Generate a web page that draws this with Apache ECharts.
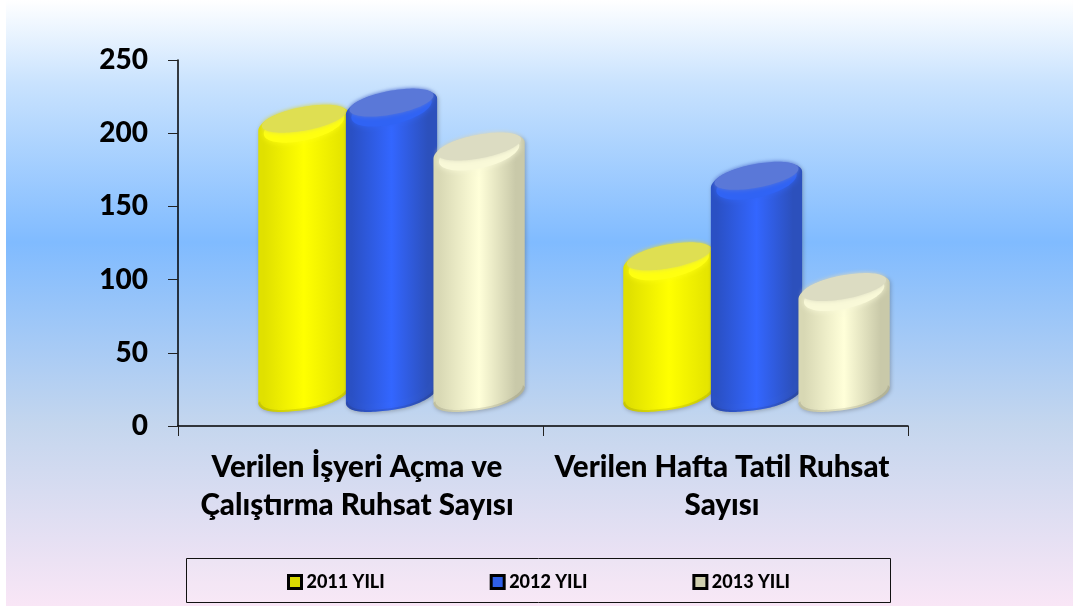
<!DOCTYPE html>
<html><head><meta charset="utf-8">
<style>html,body{margin:0;padding:0;background:#fff}#c{width:1073px;height:606px}</style>
<script src="https://cdn.jsdelivr.net/npm/echarts@6/dist/echarts.min.js"></script>
</head><body><div id="c"></div>
<script>
const categories = ['Verilen İşyeri Açma ve\nÇalıştırma Ruhsat Sayısı', 'Verilen Hafta Tatil Ruhsat\nSayısı'];
const yTicks = [0, 50, 100, 150, 200, 250];
const seriesNames = ['2011 YILI', '2012 YILI', '2013 YILI'];
const values2011 = [186, 92];
const values2012 = [197, 147];
const values2013 = [167, 71];
const palette = [
  {edgeL:'#e0e000', mid:'#ffff00', edgeR:'#e6e600', face:'#dfdf52', rim:'#ffff10', legend:'#d8d800'},
  {edgeL:'#2a50c4', mid:'#3366ff', edgeR:'#2c50bc', face:'#5a78d8', rim:'#3063f4', legend:'#2f5fe8'},
  {edgeL:'#d8d8b4', mid:'#ffffd9', edgeR:'#c9c9a9', face:'#dcdcc2', rim:'#f9f9d8', legend:'#cfcfae'}
];
const allValues = [values2011, values2012, values2013];
const DEPTH = 31, ROT = 8;

function ell(cx, cy, a, b, s, t0, t1, n, round) {
  const pts = [];
  for (let i = 0; i <= n; i++) {
    const t = t0 + (t1 - t0) * i / n;
    const co = Math.cos(t), k = Math.sign(co) * Math.pow(Math.abs(co), round);
    pts.push([cx + a * k, cy + b * Math.sin(t) - s * co]);
  }
  return pts;
}
function hGrad(c) {
  return {type:'linear', x:0, y:0, x2:1, y2:0, colorStops:[
    {offset:0, color:c.edgeL},{offset:0.06, color:c.edgeL},{offset:0.5, color:c.mid},{offset:0.9, color:c.edgeR},{offset:1, color:c.edgeR}]};
}
function makeRender(si) {
  return function (params, api) {
    const cat = api.value(0), v = api.value(1);
    const catW = api.size([1, 0])[0];
    const w = catW * 0.25, step = catW * 0.24;
    const p = api.coord([cat, v]), p0 = api.coord([cat, 0]);
    const cx = p[0] + (si - 1) * step + DEPTH;
    const top = p[1] - DEPTH, bot = p0[1] - DEPTH;
    const a = w / 2, b = 15, R = 0.88;
    const c = palette[si];
    const body = ell(cx, top, a, b, ROT, Math.PI, 2 * Math.PI, 60, R).concat(ell(cx, bot, a, b, ROT, 0, Math.PI, 60, R));
    const rim = ell(cx, top + 3, a * 0.88, b, ROT, 0, 2 * Math.PI, 100, 1);
    const face = ell(cx, top - 4, a * 0.92, b * 0.8, ROT * 0.9, 0, 2 * Math.PI, 100, 1);
    const bottomBand = ell(cx, bot, a, b, ROT, 0, Math.PI, 60, R).concat(ell(cx, bot - 2, a * 0.96, b, ROT, Math.PI, 0, 60, R));
    return {type:'group', children:[
      {type:'polygon', shape:{points:body}, style:{fill:hGrad(c), shadowBlur:4, shadowColor:'rgba(60,60,60,0.35)', shadowOffsetX:1, shadowOffsetY:1}},
      {type:'polygon', shape:{points:rim}, style:{fill:c.rim, shadowBlur:6, shadowColor:c.rim}},
      {type:'polygon', shape:{points:face}, style:{fill:c.face, shadowBlur:4, shadowColor:c.face}},
      {type:'polygon', shape:{points:bottomBand}, style:{fill:'rgba(40,40,40,0.13)', shadowBlur:5, shadowColor:'rgba(40,40,40,0.18)'}}
    ]};
  };
}
const font = 'Lato';
const chart = echarts.init(document.getElementById('c'), null, {renderer:'canvas'});
chart.setOption({
  animation:false,
  backgroundColor:'#ffffff',
  graphic:[
    {type:'rect', z:-10, silent:true, shape:{x:6, y:0, width:1067, height:606}, style:{fill:{type:'linear',x:0,y:0,x2:0,y2:1,colorStops:[
      {offset:0,color:'#ffffff'},{offset:0.14,color:'#c8e2fe'},{offset:0.4,color:'#80bbff'},{offset:0.7,color:'#c4d6ee'},{offset:1,color:'#f9e6f6'}]}}},
    {type:'rect', z:-9, silent:true, shape:{x:186.5, y:558.5, width:704, height:44}, style:{fill:'rgba(255,255,255,0.08)', stroke:'#111', lineWidth:1}}
  ],
  grid:{left:178, right:165, top:60, bottom:180},
  legend:{
    left:282, top:568, itemWidth:13, itemHeight:13, itemGap:105, icon:'rect',
    data:seriesNames.map((n,i)=>({name:n, itemStyle:{color:palette[i].legend, borderColor:'#000', borderWidth:3}})),
    textStyle:{fontFamily:font, fontWeight:900, fontSize:18, color:'#000', padding:[0,0,0,0]}
  },
  xAxis:{type:'category', data:categories,
    axisLine:{lineStyle:{color:'#000', width:1.5}},
    axisTick:{show:true, length:10, lineStyle:{color:'#222', width:1}},
    axisLabel:{fontFamily:font, fontWeight:900, fontSize:29.5, color:'#000', lineHeight:38, margin:22, interval:0, padding:[0,7,0,0]}},
  yAxis:{type:'value', min:yTicks[0], max:yTicks[yTicks.length-1], interval:yTicks[1]-yTicks[0],
    splitLine:{show:false},
    axisLine:{show:true, lineStyle:{color:'#000', width:1.5}},
    axisTick:{show:true, length:10, lineStyle:{color:'#222', width:1}},
    axisLabel:{fontFamily:font, fontWeight:900, fontSize:28, color:'#000', margin:30, padding:[4,0,0,0]}},
  series:seriesNames.map((n,i)=>({
    name:n, type:'custom', coordinateSystem:'cartesian2d', clip:false,
    itemStyle:{color:palette[i].legend},
    encode:{x:0, y:1},
    data:allValues[i].map((v,k)=>[k,v]),
    renderItem:makeRender(i)
  }))
});
</script></body></html>
